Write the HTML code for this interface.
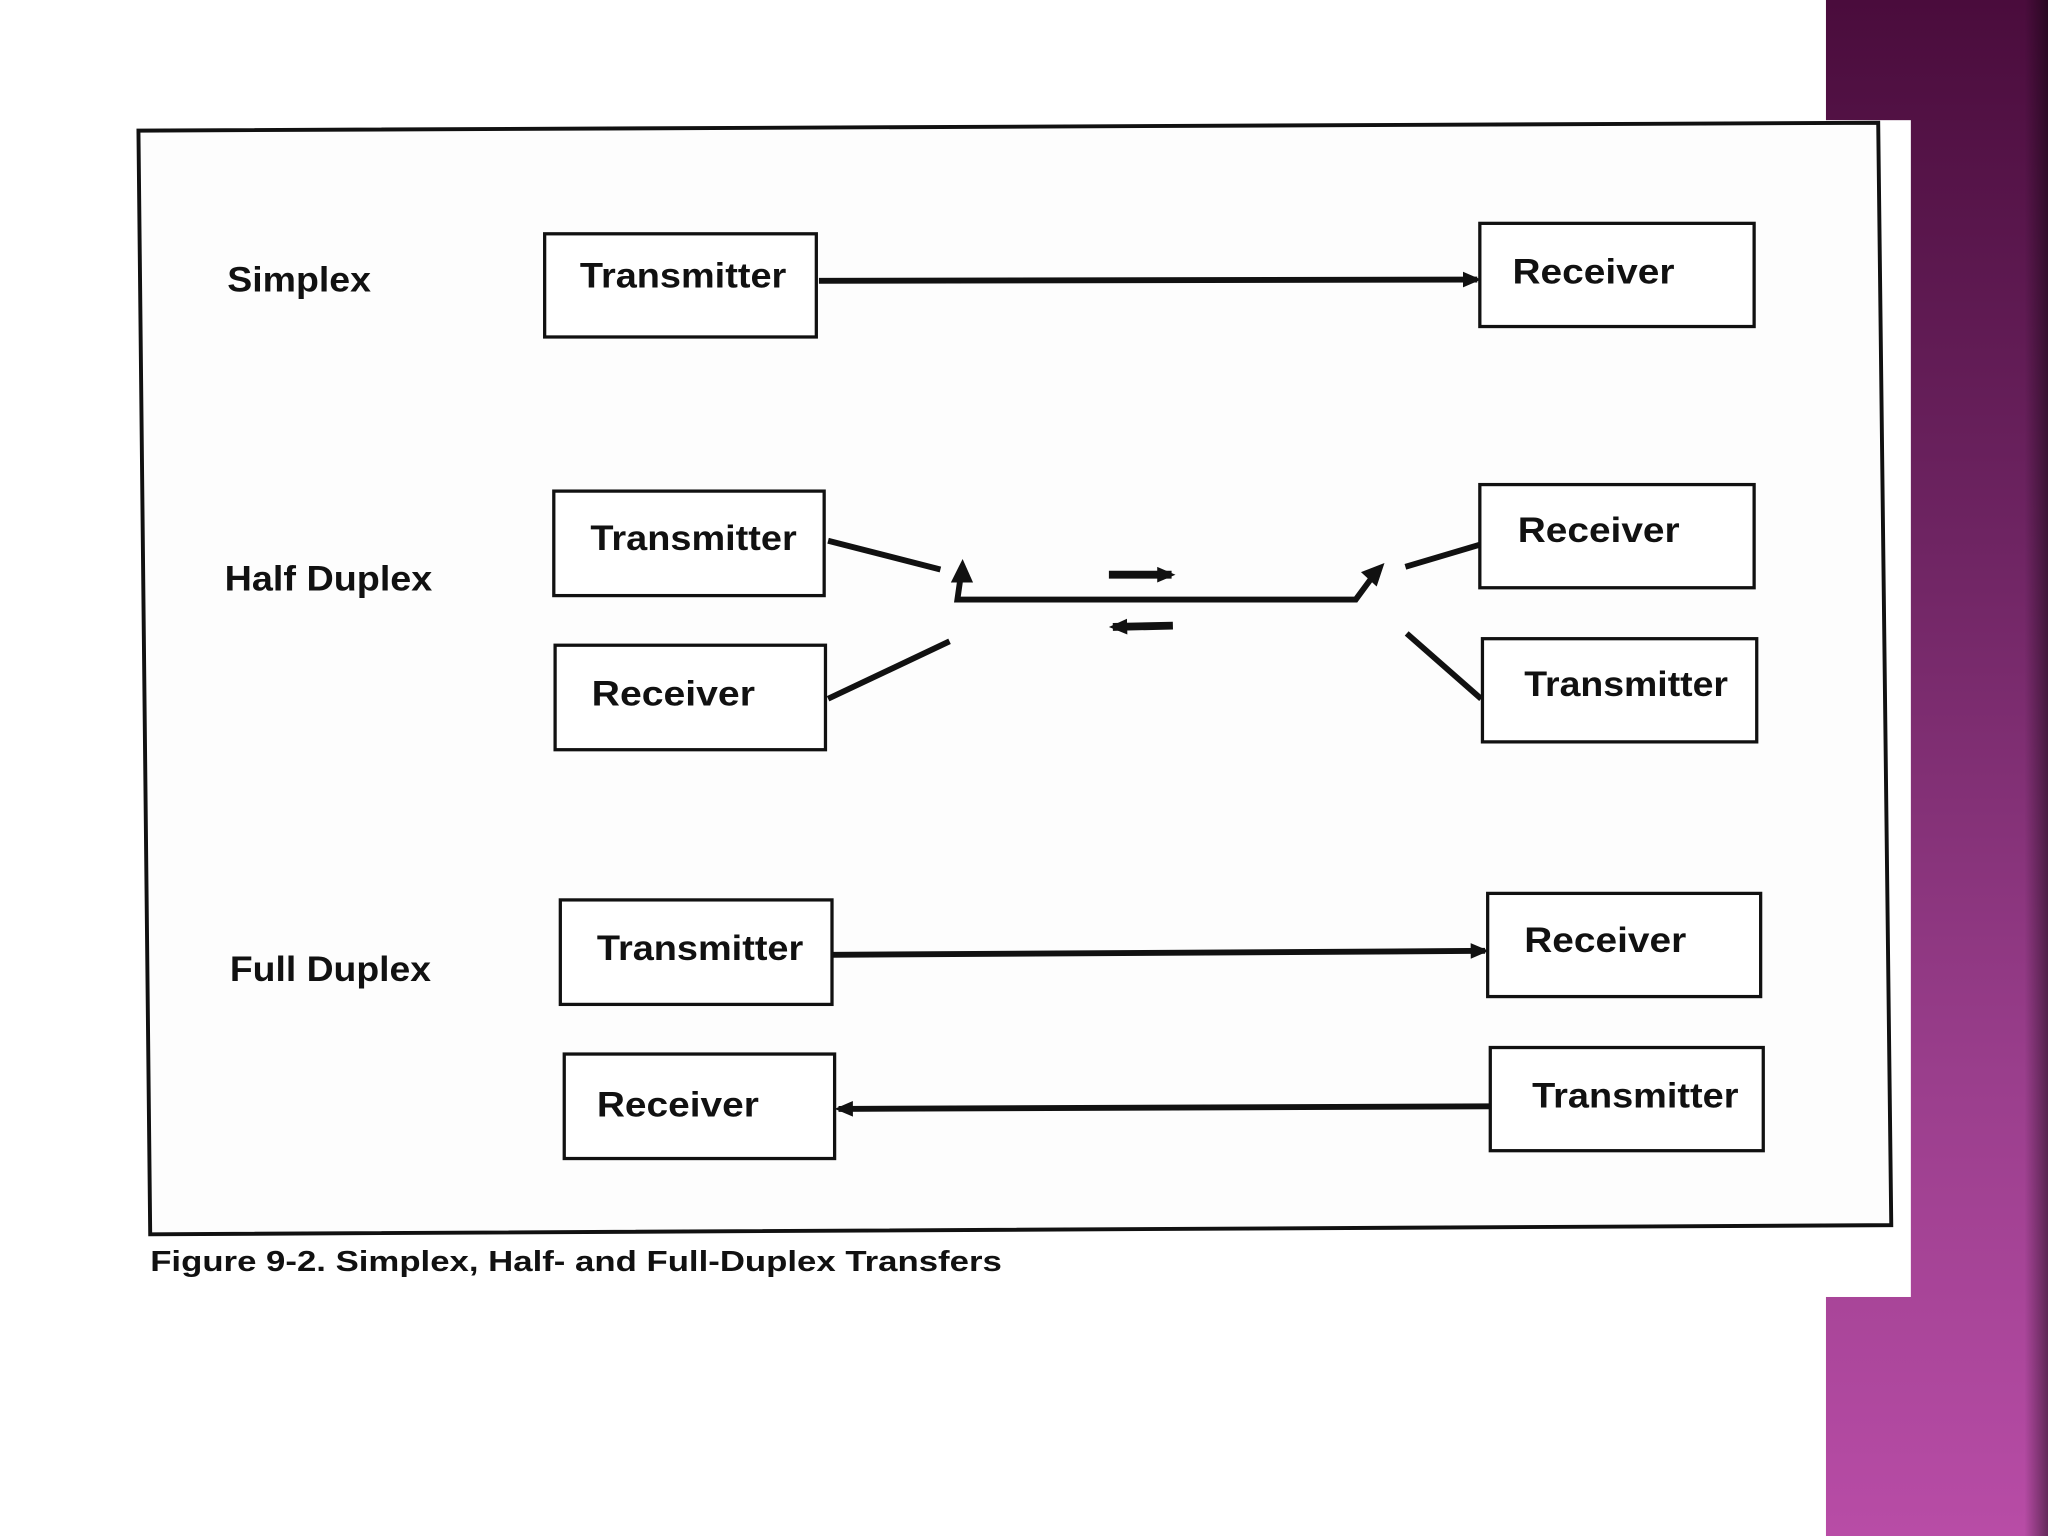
<!DOCTYPE html>
<html><head><meta charset="utf-8"><style>
html,body{margin:0;padding:0;background:#fff;}
svg{display:block;}
text{font-family:"Liberation Sans",Arial,sans-serif;fill:#111;font-weight:bold;}
</style></head><body>
<svg width="2048" height="1536" viewBox="0 0 1568 1176" preserveAspectRatio="none" xmlns="http://www.w3.org/2000/svg">
<defs>
<linearGradient id="pg" x1="0" y1="0" x2="0" y2="1">
<stop offset="0" stop-color="#4a0c3c"/>
<stop offset="0.35" stop-color="#6e2462"/>
<stop offset="0.7" stop-color="#9a3e8c"/>
<stop offset="1" stop-color="#b84ca6"/>
</linearGradient>
<linearGradient id="edge" x1="0" y1="0" x2="1" y2="0">
<stop offset="0" stop-color="#000" stop-opacity="0"/>
<stop offset="1" stop-color="#000" stop-opacity="0.45"/>
</linearGradient>
<marker id="ah" markerWidth="14" markerHeight="14" refX="11" refY="7" orient="auto" markerUnits="userSpaceOnUse"><path d="M0,1 L14,7 L0,13 z" fill="#111"/></marker>
</defs>
<rect x="0" y="0" width="1568" height="1176" fill="#fff"/>
<rect x="1398" y="0" width="170" height="1176" fill="url(#pg)"/>
<rect x="1550" y="0" width="18" height="1176" fill="url(#edge)"/>
<rect x="1380" y="92" width="83" height="901" fill="#fff"/>
<polygon points="106,100 1438,94 1448,938 115,945" fill="#fdfdfd" stroke="#111" stroke-width="3"/>

<g fill="#fff" stroke="#111" stroke-width="2.5">
<rect x="417" y="179" width="208" height="79"/>
<rect x="1133" y="171" width="210" height="79"/>
<rect x="424" y="376" width="207" height="80"/>
<rect x="425" y="494" width="207" height="80"/>
<rect x="1133" y="371" width="210" height="79"/>
<rect x="1135" y="489" width="210" height="79"/>
<rect x="429" y="689" width="208" height="80"/>
<rect x="1139" y="684" width="209" height="79"/>
<rect x="432" y="807" width="207" height="80"/>
<rect x="1141" y="802" width="209" height="79"/>
</g>

<g font-size="27" lengthAdjust="spacingAndGlyphs">
<text x="174" y="223" textLength="110" lengthAdjust="spacingAndGlyphs">Simplex</text>
<text x="172" y="452" textLength="159" lengthAdjust="spacingAndGlyphs">Half Duplex</text>
<text x="176" y="751" textLength="154" lengthAdjust="spacingAndGlyphs">Full Duplex</text>
<text x="444" y="220" textLength="158" lengthAdjust="spacingAndGlyphs">Transmitter</text>
<text x="1158" y="217" textLength="124" lengthAdjust="spacingAndGlyphs">Receiver</text>
<text x="452" y="421" textLength="158" lengthAdjust="spacingAndGlyphs">Transmitter</text>
<text x="453" y="540" textLength="125" lengthAdjust="spacingAndGlyphs">Receiver</text>
<text x="1162" y="415" textLength="124" lengthAdjust="spacingAndGlyphs">Receiver</text>
<text x="1167" y="533" textLength="156" lengthAdjust="spacingAndGlyphs">Transmitter</text>
<text x="457" y="735" textLength="158" lengthAdjust="spacingAndGlyphs">Transmitter</text>
<text x="1167" y="729" textLength="124" lengthAdjust="spacingAndGlyphs">Receiver</text>
<text x="457" y="855" textLength="124" lengthAdjust="spacingAndGlyphs">Receiver</text>
<text x="1173" y="848" textLength="158" lengthAdjust="spacingAndGlyphs">Transmitter</text>
</g>
<text x="115" y="973" font-size="22" textLength="652" lengthAdjust="spacingAndGlyphs">Figure 9-2. Simplex, Half- and Full-Duplex Transfers</text>

<g stroke="#111" stroke-width="4.5" fill="none">
<line x1="627" y1="215" x2="1131" y2="214" marker-end="url(#ah)"/>
<line x1="638" y1="731" x2="1137" y2="728" marker-end="url(#ah)"/>
<line x1="1141" y1="847" x2="642" y2="849" marker-end="url(#ah)"/>
<line x1="634" y1="414" x2="720" y2="436"/>
<line x1="634" y1="535" x2="727" y2="491"/>
<line x1="1076" y1="434" x2="1133" y2="417"/>
<line x1="1077" y1="485" x2="1134" y2="535"/>
<polyline points="736,438 733,459 1038,459 1052,440" />
<line x1="849" y1="440" x2="897" y2="440" marker-end="url(#ah)" stroke-width="6"/>
<line x1="898" y1="479" x2="852" y2="480" marker-end="url(#ah)" stroke-width="6"/>
</g>
<path d="M737,428 L728,446 L745,446 z" fill="#111"/>
<path d="M1060,431 L1042,438 L1054,449 z" fill="#111"/>
</svg>
</body></html>
